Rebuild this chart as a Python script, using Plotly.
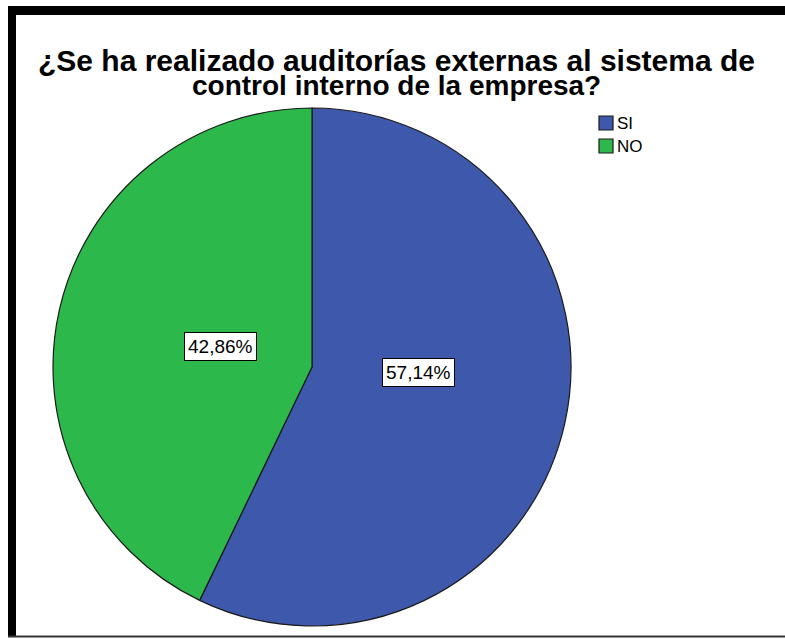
import plotly.graph_objects as go

categories = ["SI", "NO"]
values = [57.14, 42.86]
label_texts = ["57,14%", "42,86%"]
colors = ["#3E58AC", "#2DB84B"]
title_lines = ["¿Se ha realizado auditorías externas al sistema de",
               "control interno de la empresa?"]

W, H = 785, 639

def px(x):
    return x / W

def py(y):
    return 1 - y / H

cx, cy, r = 312, 367, 259
FONT = "Liberation Sans, Arial"

fig = go.Figure(go.Pie(
    labels=categories,
    values=values,
    sort=False,
    direction="clockwise",
    rotation=0,
    marker=dict(colors=colors, line=dict(color="#1a1a1a", width=1.2)),
    textinfo="none",
    hoverinfo="label+percent",
    showlegend=False,
    domain=dict(x=[px(cx - r), px(cx + r)], y=[py(cy + r), py(cy - r)]),
))

# slice labels
label_pos = [(418.5, 372), (183.5, 346.5)]
for (lx, ly), t in zip(label_pos, label_texts):
    fig.add_annotation(
        x=px(lx), y=py(ly), xref="paper", yref="paper",
        text=t, showarrow=False,
        font=dict(family=FONT, size=19, color="black"),
        bgcolor="white", bordercolor="black", borderwidth=1, borderpad=3,
    )

# title (two lines, tight leading)
title_sizes = [30, 28]
for i, (line, fs) in enumerate(zip(title_lines, title_sizes)):
    fig.add_annotation(
        x=px(396), y=py(60 + 25 * i), xref="paper", yref="paper",
        xanchor="center", yanchor="middle",
        text="<b>" + line + "</b>", showarrow=False,
        font=dict(family=FONT, size=fs, color="black"),
    )

# legend
for i, (cat, col) in enumerate(zip(categories, colors)):
    y0 = 116 + 23 * i
    fig.add_shape(type="rect", xref="paper", yref="paper",
                  x0=px(599), x1=px(613), y0=py(y0 + 14), y1=py(y0),
                  fillcolor=col, line=dict(color="#1a1a1a", width=1.2))
    fig.add_annotation(
        x=px(615), y=py(y0 + 7.5), xref="paper", yref="paper",
        xanchor="left", yanchor="middle", text=cat, showarrow=False,
        font=dict(family=FONT, size=17, color="black"),
    )

# frame
fig.add_shape(type="rect", xref="paper", yref="paper",
              x0=px(8), x1=1.0, y0=py(15), y1=py(6),
              fillcolor="black", line=dict(width=0))
fig.add_shape(type="rect", xref="paper", yref="paper",
              x0=px(8), x1=px(16), y0=py(637), y1=py(6),
              fillcolor="black", line=dict(width=0))
fig.add_shape(type="line", xref="paper", yref="paper",
              x0=px(8), x1=1.0, y0=py(636.5), y1=py(636.5),
              line=dict(color="#333333", width=2))

fig.update_layout(
    width=W, height=H,
    margin=dict(l=0, r=0, t=0, b=0),
    paper_bgcolor="white",
    plot_bgcolor="white",
    showlegend=False,
)

fig.write_html("out.html")
